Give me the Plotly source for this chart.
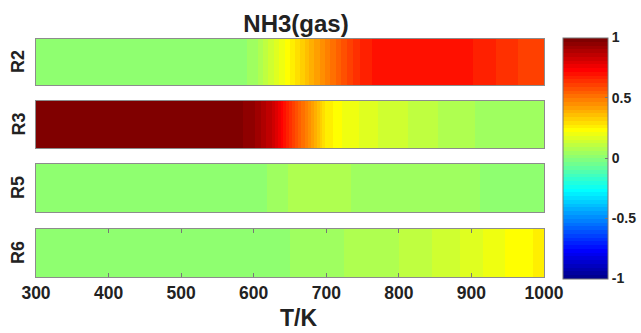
import numpy as np
import plotly.graph_objects as go

# ---------------- data ----------------
temps = [300, 325, 350, 375, 400, 425, 450, 475, 500, 525, 550, 575,
         600, 625, 650, 675, 700, 725, 750, 775, 800, 825, 850, 875,
         900, 925, 950, 975, 1000]

rows = ["R2", "R3", "R5", "R6"]

r2_vals = [0.018, 0.018, 0.018, 0.018, 0.018, 0.018, 0.018, 0.018, 0.018, 0.018, 0.018, 0.018,
           0.04, 0.15, 0.25, 0.37, 0.48, 0.58, 0.675, 0.70, 0.705, 0.71, 0.71, 0.705,
           0.69, 0.665, 0.635, 0.615, 0.60]

r3_vals = [1.0, 1.0, 1.0, 1.0, 1.0, 1.0, 1.0, 1.0, 1.0, 1.0, 1.0, 0.985,
           0.94, 0.84, 0.64, 0.46, 0.27, 0.21, 0.18, 0.15, 0.133, 0.115, 0.096, 0.08,
           0.064, 0.055, 0.048, 0.042, 0.038]

r5_vals = [0.015, 0.015, 0.015, 0.015, 0.015, 0.015, 0.015, 0.015, 0.015, 0.015, 0.015, 0.015,
           0.02, 0.036, 0.066, 0.072, 0.072, 0.066, 0.055, 0.05, 0.048, 0.045, 0.042, 0.038,
           0.034, 0.028, 0.022, 0.018, 0.016]

r6_vals = [0.018, 0.018, 0.018, 0.018, 0.018, 0.018, 0.018, 0.018, 0.018, 0.018, 0.018, 0.018,
           0.018, 0.018, 0.032, 0.042, 0.052, 0.063, 0.073, 0.083, 0.094, 0.11, 0.128, 0.148,
           0.172, 0.198, 0.223, 0.243, 0.262]

series = [r2_vals, r3_vals, r5_vals, r6_vals]

x_ticks = [300, 400, 500, 600, 700, 800, 900, 1000]
cbar_ticks = [-1, -0.5, 0, 0.5, 1]
cbar_labels = ["-1", "-0.5", "0", "0.5", "1"]


# ---------------- MATLAB-like jet(64) colormap ----------------
def jet(m=64):
    n = int(np.ceil(m / 4))
    u = np.concatenate([np.arange(1, n + 1) / n, np.ones(n - 1), np.arange(n, 0, -1) / n])
    g = int(np.ceil(n / 2)) - (1 if m % 4 == 1 else 0) + np.arange(1, len(u) + 1)
    r = g + n
    b = g - n
    J = np.zeros((m, 3))
    for col, idxs in enumerate([r, g, b]):
        for idx, val in zip(idxs, u):
            if 1 <= idx <= m:
                J[idx - 1, col] = val
    return J


J = jet(64)
colorscale = []
for k in range(64):
    c = "rgb(%d,%d,%d)" % tuple(int(round(v * 255)) for v in J[k])
    colorscale.append([k / 64, c])
    colorscale.append([(k + 1) / 64, c])

FONT = "Liberation Sans, Arial, sans-serif"

# pixel layout
W, H = 641, 333
L, R, T, B = 36, 97, 39, 56
plot_w = W - L - R
plot_h = H - T - B
row_px = [(39, 85), (101, 148), (164, 212), (229, 277)]
domains = [[(H - B - b) / plot_h, (H - B - t) / plot_h] for (t, b) in row_px]
domains = [[max(0, d[0]), min(1, d[1])] for d in domains]

fig = go.Figure()
layout = {}
for i, (name, vals) in enumerate(zip(rows, series)):
    ax = "" if i == 0 else str(i + 1)
    fig.add_trace(go.Heatmap(
        x=temps, y=[0, 1], z=[vals, vals],
        coloraxis="coloraxis", zsmooth="best",
        xaxis="x" + ax, yaxis="y" + ax,
        hoverinfo="skip",
    ))
    bottom = (i == len(rows) - 1)
    layout["xaxis" + ax] = dict(
        domain=[0, 1], anchor="y" + ax, range=[300, 1000],
        showline=True, mirror=True if not bottom else "ticks",
        linecolor="#8c8c8c", linewidth=1,
        ticks="inside" if bottom else "", ticklen=4, tickcolor="#777",
        tickvals=x_ticks, showticklabels=bottom,
        tickfont=dict(family=FONT, size=17.5, color="#222", weight="bold"),
        showgrid=False, zeroline=False, automargin=False,
    )
    layout["yaxis" + ax] = dict(
        domain=domains[i], anchor="x" + ax, range=[-0.5, 1.5],
        showline=True, mirror=True, linecolor="#8c8c8c", linewidth=1,
        showticklabels=False, ticks="", showgrid=False, zeroline=False,
        automargin=False,
    )

fig.update_layout(**layout)

annotations = []
for i, name in enumerate(rows):
    annotations.append(dict(
        text="<b>%s</b>" % name, x=(18 - L) / plot_w, y=sum(domains[i]) / 2,
        xref="paper", yref="paper", xanchor="center", yanchor="middle",
        textangle=-90, showarrow=False,
        font=dict(family=FONT, size=18, color="#222"),
    ))
annotations.append(dict(
    text="<b>T/K</b>", x=(298 - L) / plot_w, y=(277 - 318) / plot_h,
    xref="paper", yref="paper", xanchor="center", yanchor="middle",
    showarrow=False, font=dict(family=FONT, size=23, color="#222"),
))

fig.update_layout(
    width=W, height=H,
    margin=dict(l=L, r=R, t=T, b=B, autoexpand=False),
    paper_bgcolor="white", plot_bgcolor="white",
    title=dict(text="<b>NH3(gas)</b>", x=296 / W, xanchor="center",
               y=1 - 24 / H, yanchor="middle",
               font=dict(family=FONT, size=24, color="#222")),
    coloraxis=dict(
        colorscale=colorscale, cmin=-1, cmax=1,
        colorbar=dict(
            x=(563 - L) / plot_w, xanchor="left",
            y=0.5, yanchor="middle", len=241 / plot_h, lenmode="fraction",
            thickness=45, thicknessmode="pixels",
            outlinecolor="#777", outlinewidth=1,
            tickvals=cbar_ticks, ticktext=cbar_labels,
            ticks="inside", ticklen=3, tickcolor="#777",
            tickfont=dict(family=FONT, size=14, color="#222", weight="bold"),
            xpad=0, ypad=0,
        ),
    ),
    annotations=annotations,
    font=dict(family=FONT),
)

fig.write_html("out.html", config={"displayModeBar": False},
               post_script="document.body.style.margin='0';document.body.style.overflow='hidden';")
